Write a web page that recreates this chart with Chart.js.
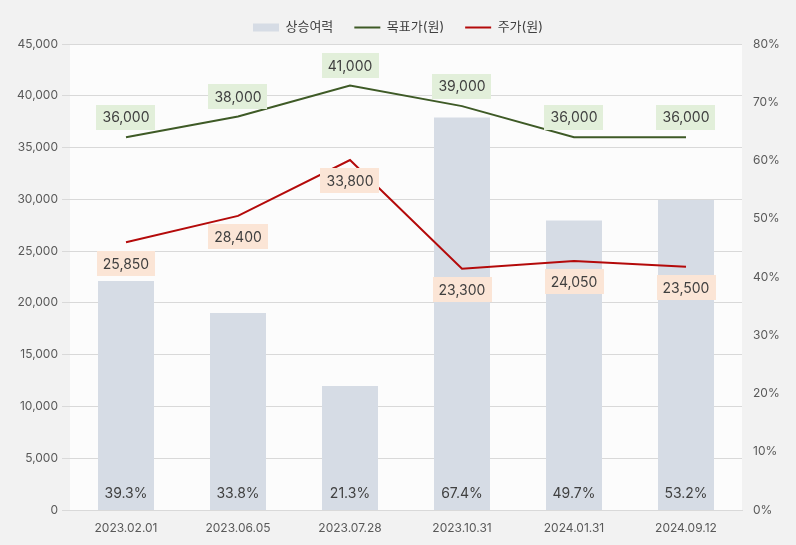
<!DOCTYPE html>
<html lang="ko">
<head>
<meta charset="utf-8">
<title>상승여력 / 목표가 / 주가</title>
<script src="https://cdn.jsdelivr.net/npm/chart.js@4/dist/chart.umd.min.js"></script>
<style>
  html, body { margin: 0; padding: 0; background: #f2f2f2; }
  #wrap { width: 796px; height: 545px; }
</style>
</head>
<body>
<div id="wrap"><canvas id="upsideChart" width="796" height="545"></canvas></div>
<script>
// data
const dates = ['2023.02.01', '2023.06.05', '2023.07.28', '2023.10.31', '2024.01.31', '2024.09.12'];
const upside = [39.3, 33.8, 21.3, 67.4, 49.7, 53.2];            // %
const targetPrice = [36000, 38000, 41000, 39000, 36000, 36000]; // 원
const stockPrice = [25850, 28400, 33800, 23300, 24050, 23500];  // 원
const priceTicks = [0, 5000, 10000, 15000, 20000, 25000, 30000, 35000, 40000, 45000];
const pctTicks = [0, 10, 20, 30, 40, 50, 60, 70, 80];

const FONT = "Inter, 'Noto Sans CJK KR', 'Noto Sans', sans-serif";
const TEXT = '#404040';

document.addEventListener("DOMContentLoaded", function () {
	const ctx = document.getElementById("upsideChart").getContext("2d");

	// grey page, near-white plot area
	const bgPlugin = {
		id: 'bgPlugin',
		beforeDraw(chart) {
			const c = chart.ctx;
			const a = chart.chartArea;
			c.save();
			c.fillStyle = '#f2f2f2';
			c.fillRect(0, 0, chart.width, chart.height);
			c.fillStyle = '#fcfcfc';
			c.fillRect(a.left, a.top, a.right - a.left, a.bottom - a.top);
			c.restore();
		}
	};

	function drawBoxLabel(c, text, x, y, bg) {
		c.font = '14px ' + FONT;
		const w = c.measureText(text).width + 12;
		const h = 25;
		c.fillStyle = bg;
		c.fillRect(Math.round(x - w / 2), Math.round(y - h / 2), Math.round(w), h);
		c.fillStyle = TEXT;
		c.textAlign = 'center';
		c.textBaseline = 'middle';
		c.fillText(text, x, y + 1);
	}

	// value labels: % at bar base, boxes above target / below price points
	const labelPlugin = {
		id: 'labelPlugin',
		afterDatasetsDraw(chart) {
			const c = chart.ctx;
			c.save();
			const barMeta = chart.getDatasetMeta(0);
			barMeta.data.forEach((bar, i) => {
				c.font = '14px ' + FONT;
				c.fillStyle = TEXT;
				c.textAlign = 'center';
				c.textBaseline = 'middle';
				c.fillText(upside[i].toFixed(1) + '%', bar.x, chart.chartArea.bottom - 16);
			});
			chart.getDatasetMeta(1).data.forEach((pt, i) => {
				drawBoxLabel(c, targetPrice[i].toLocaleString('en-US'), pt.x, pt.y - 20, '#e2efda');
			});
			chart.getDatasetMeta(2).data.forEach((pt, i) => {
				drawBoxLabel(c, stockPrice[i].toLocaleString('en-US'), pt.x, pt.y + 21, '#fbe5d6');
			});
			c.restore();
		}
	};

	new Chart(ctx, {
		type: 'bar',
		data: {
			labels: dates,
			datasets: [{
				type: 'bar',
				label: '상승여력',
				data: upside,
				yAxisID: 'yPct',
				backgroundColor: '#d6dce5',
				barPercentage: 1,
				categoryPercentage: 0.5,
				order: 2
			}, {
				type: 'line',
				label: '목표가(원)',
				data: targetPrice,
				yAxisID: 'yPrice',
				borderColor: '#3e5a26',
				backgroundColor: '#3e5a26',
				borderWidth: 2,
				pointRadius: 0,
				tension: 0,
				order: 1
			}, {
				type: 'line',
				label: '주가(원)',
				data: stockPrice,
				yAxisID: 'yPrice',
				borderColor: '#b40a0a',
				backgroundColor: '#b40a0a',
				borderWidth: 2,
				pointRadius: 0,
				tension: 0,
				order: 0
			}]
		},
		options: {
			responsive: false,
			animation: false,
			layout: { padding: { top: 0, left: 0, right: 0, bottom: 0 } },
			plugins: {
				tooltip: { enabled: false },
				legend: {
					position: 'top',
					labels: {
						usePointStyle: true,
						pointStyleWidth: 26,
						boxHeight: 8,
						padding: 21,
						color: TEXT,
						font: { family: FONT, size: 13 },
						sort: (a, b) => a.datasetIndex - b.datasetIndex,
						generateLabels(chart) {
							const items = Chart.defaults.plugins.legend.labels.generateLabels(chart);
							return items.map(item => {
								if (item.datasetIndex === 0) {
									item.pointStyle = 'rect';
									item.lineWidth = 0;
								} else {
									item.pointStyle = 'line';
									item.lineWidth = 2;
								}
								return item;
							});
						}
					}
				}
			},
			scales: {
				x: {
					grid: { display: false },
					border: { color: '#d9d9d9' },
					ticks: { color: '#595959', font: { family: FONT, size: 12 }, padding: 3 },
					afterFit(scale) { scale.height = 35; }
				},
				yPrice: {
					position: 'left',
					min: 0,
					max: 45000,
					afterBuildTicks(scale) { scale.ticks = priceTicks.map(v => ({ value: v })); },
					grid: { color: '#d9d9d9' },
					border: { display: false },
					ticks: {
						color: '#595959',
						font: { family: FONT, size: 12 },
						padding: 4,
						callback: v => v.toLocaleString('en-US')
					},
					afterFit(scale) { scale.width = 70; }
				},
				yPct: {
					position: 'right',
					min: 0,
					max: 80,
					afterBuildTicks(scale) { scale.ticks = pctTicks.map(v => ({ value: v })); },
					grid: { display: false },
					border: { display: false },
					ticks: {
						color: '#595959',
						font: { family: FONT, size: 12 },
						padding: 3,
						callback: v => v + '%'
					},
					afterFit(scale) { scale.width = 54; }
				}
			}
		},
		plugins: [bgPlugin, labelPlugin]
	});
});
</script>
</body>
</html>
